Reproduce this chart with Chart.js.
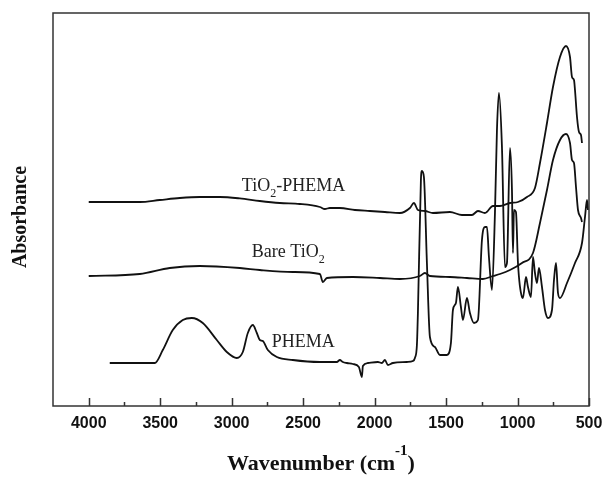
<!DOCTYPE html>
<html>
<head>
<meta charset="utf-8">
<script src="https://cdn.jsdelivr.net/npm/chart.js@4"></script>
<style>
  html, body { margin: 0; padding: 0; background: #fff; }
</style>
</head>
<body>
<canvas id="ftir" width="604" height="477"></canvas>
<script>
// x axis (wavenumber, cm-1), drawn reversed
const xTicks = [4000, 3500, 3000, 2500, 2000, 1500, 1000, 500];
const xMinorTicks = [3750, 3250, 2750, 2250, 1750, 1250, 750];

// TiO2-PHEMA
const tiPhemaWn = [4000, 3923, 3783, 3643, 3503, 3363, 3223, 3083, 2943, 2803, 2663, 2523, 2383, 2348, 2313, 2243, 2138, 2033, 1928, 1823, 1753, 1725, 1697, 1648, 1592, 1473, 1389, 1319, 1277, 1228, 1172, 1123, 1053, 997, 934, 878, 843, 794, 752, 703, 661, 633, 619, 605, 598, 584, 570, 556, 549];
const tiPhemaAbs = [51, 51, 51, 51, 51.5, 52, 52.25, 52.25, 51.9, 51.25, 50.75, 50.5, 49.75, 49.25, 49.5, 49.5, 49, 48.75, 48.5, 48.25, 49.5, 50.75, 49, 48.75, 48.25, 48.5, 47.75, 47.75, 48.75, 48.25, 50, 50, 50.75, 51, 52.25, 54.5, 60.75, 70.75, 79.75, 87.25, 90, 87.25, 82.25, 81.5, 79, 72.25, 68.5, 67.75, 65.75];

// Bare TiO2
const bareWn = [4000, 3643, 3433, 3223, 2943, 2803, 2572, 2383, 2362, 2334, 2152, 1963, 1823, 1683, 1648, 1613, 1473, 1354, 1242, 1172, 1123, 1053, 969, 892, 843, 794, 752, 703, 661, 633, 619, 605, 591, 577, 556, 549];
const bareAbs = [32.5, 33, 34.5, 35, 34.5, 34, 33.5, 33, 31, 32, 32.25, 32, 31.75, 32.5, 33.25, 32.5, 32.25, 32, 31.75, 32.5, 33, 34, 35.75, 38.25, 45.75, 54, 61.5, 66.5, 68, 65.75, 61.5, 60.75, 54.75, 49, 47, 46];

// PHEMA
const phemaWn = [3853, 3713, 3538, 3482, 3412, 3342, 3279, 3202, 3104, 3034, 2964, 2922, 2887, 2852, 2824, 2803, 2782, 2747, 2684, 2572, 2383, 2264, 2243, 2222, 2194, 2152, 2110, 2089, 2082, 2047, 1977, 1949, 1928, 1907, 1872, 1774, 1732, 1718, 1704, 1697, 1676, 1669, 1655, 1634, 1613, 1578, 1543, 1494, 1466, 1452, 1431, 1417, 1396, 1382, 1354, 1333, 1305, 1277, 1249, 1228, 1214, 1200, 1179, 1158, 1144, 1130, 1109, 1088, 1074, 1053, 1039, 1032, 1025, 1011, 997, 969, 962, 941, 927, 906, 892, 878, 864, 850, 829, 808, 787, 759, 745, 731, 717, 703, 654, 598, 549, 528, 514, 507];
const phemaAbs = [10.75, 10.75, 10.75, 14, 19, 21.5, 22, 20.75, 16.5, 13.5, 12, 13.5, 18.25, 20.25, 18.25, 16.5, 16.25, 14, 12.25, 11.5, 11, 11, 11.5, 11, 10.75, 10.5, 9.75, 7.25, 10, 10.75, 11, 10.75, 11.5, 10.25, 10.75, 11, 11.25, 12, 15.25, 23.25, 56.5, 58.75, 57.25, 35.75, 17.25, 14.75, 12.75, 12.75, 15.75, 24, 25.75, 29.75, 24.75, 21.5, 27, 23.25, 20.75, 21.5, 41.5, 44.75, 44.75, 37.25, 29, 48.25, 69, 78.25, 64.75, 34.75, 35.75, 64.5, 54, 38.25, 49, 48.5, 35.75, 27.25, 27, 32.25, 29.75, 27.25, 37.25, 33.25, 30.75, 34.5, 29.75, 24, 22, 24, 31.5, 35.75, 28.25, 27, 30.75, 35.75, 40.75, 47.25, 51.5, 49];

// curve labels: [text, subscript, rest], anchored in data units
const labelParts = [['TiO', '2', '-PHEMA'], ['Bare TiO', '2', ''], ['PHEMA', '', '']];
const labelWn = [2929, 2859, 2719];
const labelAbs = [53.75, 37.25, 14.75];

function toPoints(xs, ys) {
  return xs.map((x, i) => ({ x: x, y: ys[i] }));
}

function spectrum(label, xs, ys) {
  return {
    label: label,
    data: toPoints(xs, ys),
    borderColor: '#111',
    borderWidth: 1.8,
    pointRadius: 0,
    fill: false,
    cubicInterpolationMode: 'monotone'
  };
}

const SERIF = '"Liberation Serif", "Times New Roman", serif';

// frame, inward ticks, axis titles and curve labels
const decorations = {
  id: 'decorations',
  afterDraw(chart) {
    const ctx = chart.ctx;
    const area = chart.chartArea;
    const xs = chart.scales.x;
    const ys = chart.scales.y;
    ctx.save();

    ctx.strokeStyle = '#333';
    ctx.lineWidth = 1.5;
    ctx.strokeRect(area.left, area.top, area.right - area.left, area.bottom - area.top);

    ctx.beginPath();
    xTicks.forEach(v => {
      const px = Math.round(xs.getPixelForValue(v)) + 0.5;
      ctx.moveTo(px, area.bottom);
      ctx.lineTo(px, area.bottom - 8);
    });
    xMinorTicks.forEach(v => {
      const px = Math.round(xs.getPixelForValue(v)) + 0.5;
      ctx.moveTo(px, area.bottom);
      ctx.lineTo(px, area.bottom - 4);
    });
    ctx.stroke();

    // x title with superscript
    ctx.fillStyle = '#111';
    ctx.textBaseline = 'alphabetic';
    ctx.textAlign = 'left';
    const bigFont = 'bold 22px ' + SERIF;
    const supFont = 'bold 15px ' + SERIF;
    ctx.font = bigFont;
    const w1 = ctx.measureText('Wavenumber (cm').width;
    const w3 = ctx.measureText(')').width;
    ctx.font = supFont;
    const w2 = ctx.measureText('-1').width;
    let tx = (area.left + area.right) / 2 - (w1 + w2 + w3) / 2;
    const ty = 470;
    ctx.font = bigFont;
    ctx.fillText('Wavenumber (cm', tx, ty);
    tx += w1;
    ctx.font = supFont;
    ctx.fillText('-1', tx, ty - 15);
    tx += w2;
    ctx.font = bigFont;
    ctx.fillText(')', tx, ty);

    // y title
    ctx.save();
    ctx.translate(26, 217);
    ctx.rotate(-Math.PI / 2);
    ctx.textAlign = 'center';
    ctx.font = 'bold 20px ' + SERIF;
    ctx.fillText('Absorbance', 0, 0);
    ctx.restore();

    // curve labels
    ctx.fillStyle = '#222';
    labelParts.forEach((parts, i) => {
      let lx = xs.getPixelForValue(labelWn[i]);
      const ly = ys.getPixelForValue(labelAbs[i]);
      ctx.font = '18px ' + SERIF;
      ctx.fillText(parts[0], lx, ly);
      lx += ctx.measureText(parts[0]).width;
      if (parts[1]) {
        ctx.font = '12px ' + SERIF;
        ctx.fillText(parts[1], lx, ly + 6);
        lx += ctx.measureText(parts[1]).width;
      }
      if (parts[2]) {
        ctx.font = '18px ' + SERIF;
        ctx.fillText(parts[2], lx, ly);
      }
    });

    ctx.restore();
  }
};

new Chart(document.getElementById('ftir'), {
  type: 'line',
  data: {
    datasets: [
      spectrum('TiO2-PHEMA', tiPhemaWn, tiPhemaAbs),
      spectrum('Bare TiO2', bareWn, bareAbs),
      spectrum('PHEMA', phemaWn, phemaAbs)
    ]
  },
  options: {
    responsive: false,
    animation: false,
    layout: { padding: { left: 0, top: 13, right: 15, bottom: 0 } },
    plugins: {
      legend: { display: false },
      tooltip: { enabled: false }
    },
    scales: {
      x: {
        type: 'linear',
        reverse: true,
        min: 500,
        max: 4250,
        grid: { display: false, drawTicks: false },
        border: { display: false },
        afterBuildTicks: (scale) => { scale.ticks = xTicks.map(v => ({ value: v })); },
        afterFit: (scale) => {
          scale.height = 71;
          scale.paddingLeft = 0;
          scale.paddingRight = 0;
        },
        ticks: {
          padding: 8,
          maxRotation: 0,
          color: '#111',
          font: { family: '"Liberation Sans", Arial, sans-serif', size: 16, weight: 'bold' },
          callback: (v) => String(v)
        }
      },
      y: {
        min: 0,
        max: 98.25,
        grid: { display: false, drawTicks: false },
        border: { display: false },
        ticks: { display: false },
        afterFit: (scale) => { scale.width = 53; }
      }
    }
  },
  plugins: [decorations]
});
</script>
</body>
</html>
